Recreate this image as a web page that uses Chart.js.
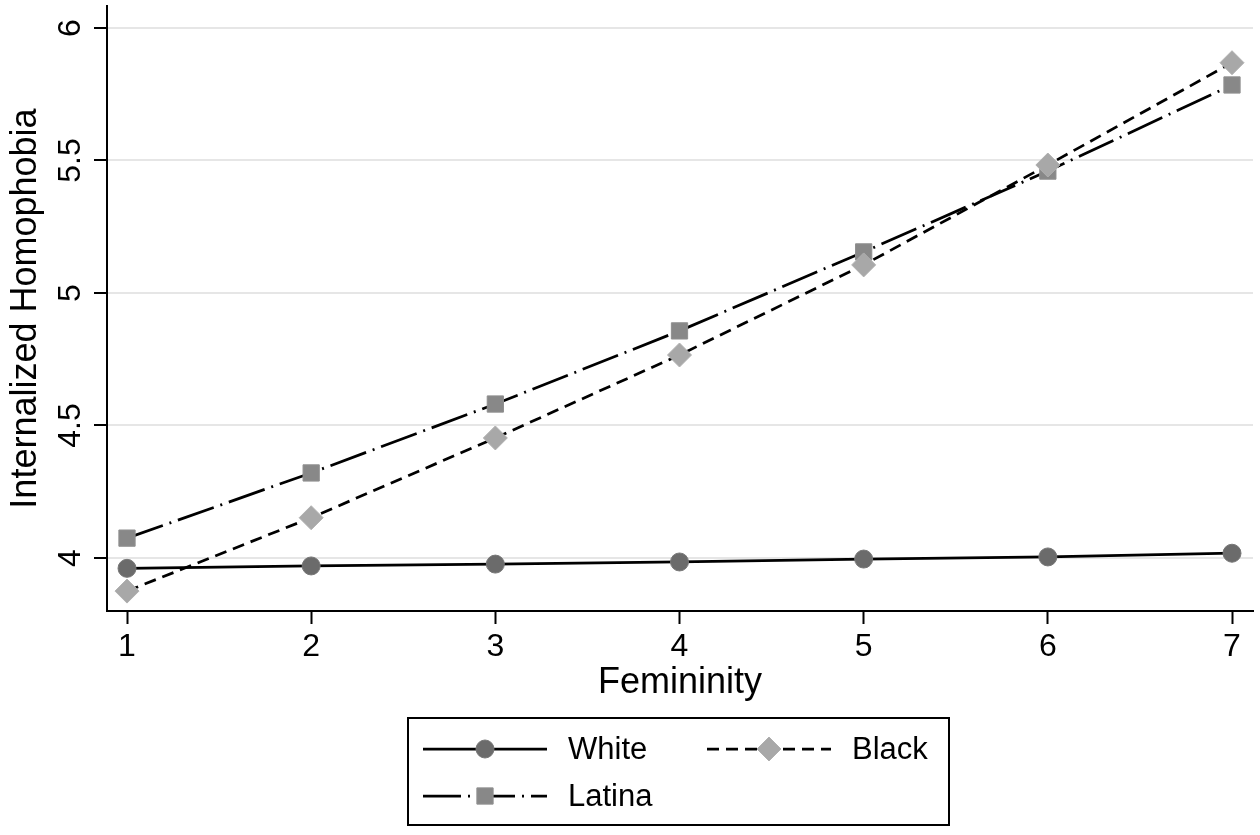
<!DOCTYPE html>
<html>
<head>
<meta charset="utf-8">
<script src="https://cdn.jsdelivr.net/npm/chart.js@4.4.1/dist/chart.umd.min.js"></script>
<style>
  html, body { margin: 0; padding: 0; background: #fff; }
  canvas { display: block; }
</style>
</head>
<body>
<canvas id="chart" width="1260" height="835"></canvas>
<script>
// ---- DATA ----
const femininity = [1, 2, 3, 4, 5, 6, 7];
const white  = [3.961, 3.970, 3.977, 3.985, 3.996, 4.004, 4.018];
const black  = [3.875, 4.152, 4.453, 4.766, 5.106, 5.483, 5.869];
const latina = [4.075, 4.321, 4.581, 4.857, 5.155, 5.460, 5.785];
const xTicks = [1, 2, 3, 4, 5, 6, 7];
const yTicks = [4, 4.5, 5, 5.5, 6];
const yTickLabels = ["4", "4.5", "5", "5.5", "6"];

const FONT = "'Liberation Sans', Arial, Helvetica, sans-serif";

function toPoints(ys) {
  return femininity.map((x, i) => ({ x, y: ys[i] }));
}

// keep the plot area exactly where the scales put it
function noPad(s) {
  s.paddingTop = 0;
  s.paddingBottom = 0;
  s.paddingLeft = 0;
  s.paddingRight = 0;
}

// rotated y tick labels (Stata style) + boxed legend underneath
const stataExtras = {
  id: "stataExtras",
  afterDraw(chart) {
    const ctx = chart.ctx;
    const yScale = chart.scales.y;
    ctx.save();

    // y tick labels, rotated
    ctx.fillStyle = "#000";
    ctx.font = `32px ${FONT}`;
    ctx.textAlign = "center";
    ctx.textBaseline = "alphabetic";
    yTicks.forEach((v, i) => {
      const py = yScale.getPixelForValue(v);
      ctx.save();
      ctx.translate(80, py);
      ctx.rotate(-Math.PI / 2);
      ctx.fillText(yTickLabels[i], 0, 0);
      ctx.restore();
    });

    // legend box
    ctx.strokeStyle = "#000";
    ctx.lineWidth = 2;
    ctx.strokeRect(408, 718, 541, 107);

    const slots = [[0, 423, 749], [1, 707, 749], [2, 423, 796]];
    slots.forEach(([i, x0, y]) => {
      const ds = chart.data.datasets[i];
      ctx.beginPath();
      ctx.setLineDash(ds.borderDash || []);
      ctx.lineWidth = ds.borderWidth;
      ctx.strokeStyle = ds.borderColor;
      ctx.moveTo(x0, y);
      ctx.lineTo(x0 + 124, y);
      ctx.stroke();
      ctx.setLineDash([]);

      ctx.fillStyle = ds.pointBackgroundColor;
      ctx.strokeStyle = ds.pointBorderColor;
      ctx.lineWidth = 1;
      Chart.helpers.drawPoint(ctx, {
        pointStyle: ds.pointStyle, rotation: 0, borderWidth: 1, radius: ds.pointRadius
      }, x0 + 62, y);

      ctx.fillStyle = "#000";
      ctx.font = `31px ${FONT}`;
      ctx.textAlign = "left";
      ctx.textBaseline = "middle";
      ctx.fillText(ds.label, x0 + 145, y + 1);
    });

    ctx.restore();
  }
};

const ctx = document.getElementById("chart").getContext("2d");

new Chart(ctx, {
  type: "line",
  data: {
    datasets: [
      {
        label: "White",
        data: toPoints(white),
        borderColor: "#000",
        borderWidth: 2.75,
        borderDash: [],
        pointStyle: "circle",
        pointRadius: 9,
        pointBackgroundColor: "#6b6b6b",
        pointBorderColor: "#777",
        pointBorderWidth: 1,
        order: 2
      },
      {
        label: "Black",
        data: toPoints(black),
        borderColor: "#000",
        borderWidth: 2.75,
        borderDash: [12, 7],
        pointStyle: "rectRot",
        pointRadius: 12,
        pointBackgroundColor: "#a8a8a8",
        pointBorderColor: "#b0b0b0",
        pointBorderWidth: 1,
        order: 0
      },
      {
        label: "Latina",
        data: toPoints(latina),
        borderColor: "#000",
        borderWidth: 2.75,
        borderDash: [38, 7, 2, 7],
        pointStyle: "rect",
        pointRadius: 11.5,
        pointBackgroundColor: "#888888",
        pointBorderColor: "#909090",
        pointBorderWidth: 1,
        order: 1
      }
    ]
  },
  options: {
    responsive: false,
    animation: false,
    devicePixelRatio: 1,
    layout: { autoPadding: false, padding: { left: 0, right: 7, top: 6, bottom: 124 } },
    plugins: {
      legend: { display: false },
      tooltip: { enabled: false }
    },
    elements: { line: { tension: 0, fill: false } },
    scales: {
      x: {
        type: "linear",
        min: 0.8914,
        max: 7.114,
        afterBuildTicks: s => { s.ticks = xTicks.map(v => ({ value: v })); },
        afterFit: s => { s.height = 100; noPad(s); },
        border: { color: "#000", width: 2 },
        grid: { drawOnChartArea: false, drawTicks: true, tickLength: 13, tickColor: "#000", tickWidth: 2 },
        ticks: {
          color: "#000",
          font: { family: FONT, size: 32 },
          padding: 4,
          maxRotation: 0,
          callback: v => String(v)
        },
        title: {
          display: true,
          text: "Femininity",
          color: "#000",
          font: { family: FONT, size: 36 },
          padding: { top: 0, bottom: 6 }
        }
      },
      y: {
        type: "linear",
        min: 3.8,
        max: 6.083,
        afterBuildTicks: s => { s.ticks = yTicks.map(v => ({ value: v })); },
        afterFit: s => { s.width = 107; noPad(s); },
        border: { color: "#000", width: 2 },
        grid: { color: "#e6e6e6", lineWidth: 2, drawTicks: true, tickLength: 13, tickColor: "#000", tickWidth: 2 },
        ticks: { display: false },
        title: {
          display: true,
          text: "Internalized Homophobia",
          color: "#000",
          font: { family: FONT, size: 36 },
          padding: { top: 4, bottom: 0 }
        }
      }
    }
  },
  plugins: [stataExtras]
});
</script>
</body>
</html>
